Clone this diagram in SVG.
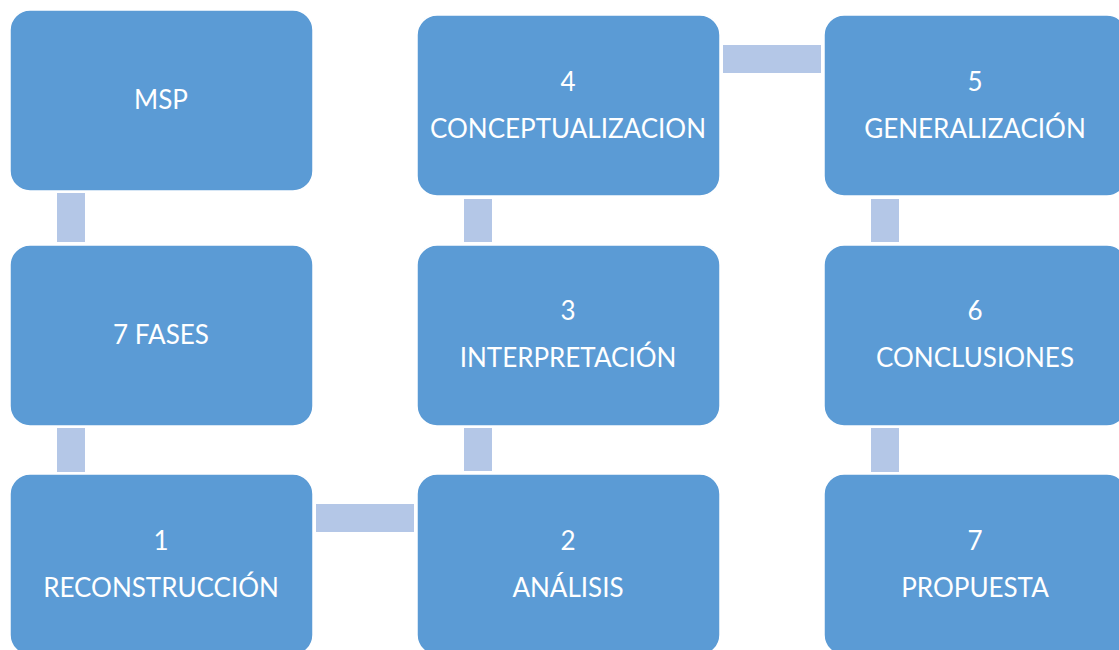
<svg xmlns="http://www.w3.org/2000/svg" width="1119" height="650" viewBox="0 0 1119 650">
<style>
.box{fill:#5B9BD5;stroke:#FFFFFF;stroke-width:1.5}
.con{fill:#B4C7E7}
.t{fill:#FFFFFF;font-family:Lato,"Open Sans",sans-serif;font-size:26px;text-anchor:middle}
</style>
<rect width="1119" height="650" fill="#FFFFFF"/>
<g id="connectors">
<rect class="con" x="57" y="193" width="28" height="49"/>
<rect class="con" x="57" y="428" width="28" height="44"/>
<rect class="con" x="316" y="504" width="98" height="28"/>
<rect class="con" x="464" y="428" width="28" height="43"/>
<rect class="con" x="464" y="199" width="28" height="43"/>
<rect class="con" x="723" y="45" width="98" height="28"/>
<rect class="con" x="871" y="199" width="28" height="43"/>
<rect class="con" x="871" y="428" width="28" height="44"/>
</g>
<g id="n-msp"><rect class="box" x="10" y="10" width="303" height="181" rx="20"/><text class="t" x="161" y="109">MSP</text></g>
<g id="n-fases"><rect class="box" x="10" y="245" width="303" height="181" rx="20"/><text class="t" x="161" y="344">7 FASES</text></g>
<g id="n-1"><rect class="box" x="10" y="474" width="303" height="181" rx="20"/><text class="t" x="161" y="550">1</text><text class="t" x="161" y="597">RECONSTRUCCIÓN</text></g>
<g id="n-2"><rect class="box" x="417" y="474" width="303" height="181" rx="20"/><text class="t" x="568" y="550">2</text><text class="t" x="568" y="597">ANÁLISIS</text></g>
<g id="n-3"><rect class="box" x="417" y="245" width="303" height="181" rx="20"/><text class="t" x="568" y="320">3</text><text class="t" x="568" y="367">INTERPRETACIÓN</text></g>
<g id="n-4"><rect class="box" x="417" y="15" width="303" height="181" rx="20"/><text class="t" x="568" y="91">4</text><text class="t" x="568" y="138">CONCEPTUALIZACION</text></g>
<g id="n-5"><rect class="box" x="824" y="15" width="303" height="181" rx="20"/><text class="t" x="975" y="91">5</text><text class="t" x="975" y="138">GENERALIZACIÓN</text></g>
<g id="n-6"><rect class="box" x="824" y="245" width="303" height="181" rx="20"/><text class="t" x="975" y="320">6</text><text class="t" x="975" y="367">CONCLUSIONES</text></g>
<g id="n-7"><rect class="box" x="824" y="474" width="303" height="181" rx="20"/><text class="t" x="975" y="550">7</text><text class="t" x="975" y="597">PROPUESTA</text></g>
</svg>
